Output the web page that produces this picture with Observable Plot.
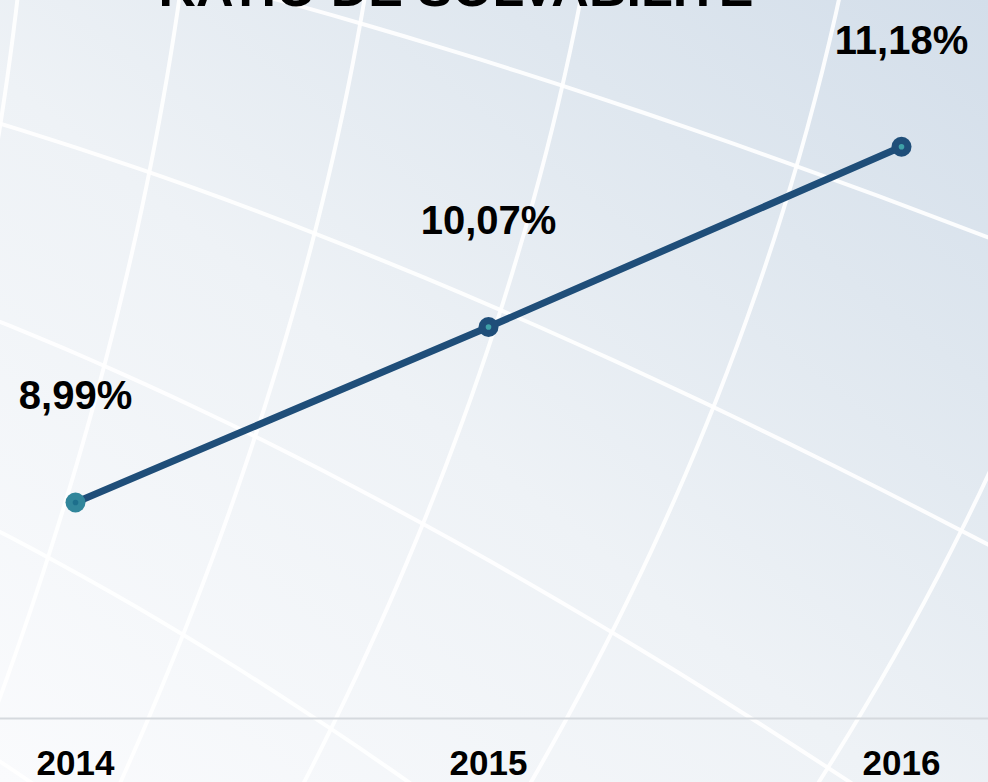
<!DOCTYPE html>
<html>
<head>
<meta charset="utf-8">
<script src="https://cdn.jsdelivr.net/npm/d3@7"></script>
<script src="https://cdn.jsdelivr.net/npm/@observablehq/plot@0.6"></script>
<style>
  html, body { margin: 0; padding: 0; }
  #wrap {
    position: relative; width: 988px; height: 782px; overflow: hidden;
    background: linear-gradient(to top right, #fafbfd 0%, #eef2f6 45%, #dfe7ef 75%, #d3deea 100%);
    font-family: "Liberation Sans", Arial, sans-serif;
  }
  #bg, #chart { position: absolute; left: 0; top: 0; }
  #title {
    position: absolute; left: 0; width: 912px; top: -38px;
    text-align: center; font: bold 52px/52px "Liberation Sans", Arial, sans-serif; color: #000;
  }
</style>
</head>
<body>
<div id="wrap">
  <div id="bg"></div>
  <div id="chart"></div>
  <div id="title">RATIO DE SOLVABILITE</div>
</div>
<script>
// ---- data ----
const years = ["2014", "2015", "2016"];
const ratios = [8.99, 10.07, 11.18];
const labels = ["8,99%", "10,07%", "11,18%"];

const NAVY = "#1f4e79";
const TEAL = "#31869b";
const INNER_FIRST = "#1d6f8c";
const INNER_OTHER = "#3fa1a8";

const data = years.map((year, i) => ({year, ratio: ratios[i], label: labels[i]}));

// ---- decorative background: globe graticule seen in perspective ----
const rad = Math.PI / 180;
// [scale, translateX, translateY, lon0, lat0, angle, latBase, latStep, lonStep, distance, tilt]
const globe = [1111.751, -945.799, 975.103, -50.404, -58.076, 369.430, 1.624, 8.986, 5.265, -0.764, -38.951];
const [R, tx, ty, lon0, lat0, alpha, latBase, latStep, lonStep, P, om] = globe;

function satRaw(P, omega) {
  const co = Math.cos(omega), so = Math.sin(omega);
  return function(lambda, phi) {
    const cp = Math.cos(phi), k = (P - 1) / (P - cp * Math.cos(lambda));
    const x = k * cp * Math.sin(lambda), y = k * Math.sin(phi);
    const A = y * so / (P - 1) + co;
    return [x * co / A, y / A];
  };
}
const clipA = (P > 1 ? Math.acos(1 / P) : Math.acos(P)) / rad - 2;
const proj = d3.geoProjection(satRaw(P, om * rad))
  .scale(R).translate([tx, ty]).rotate([-lon0, -lat0, 0]).angle(alpha)
  .clipAngle(clipA).precision(0.2);

const feats = [];
for (let i = -80; i <= 80; i++) {
  const lon = lonStep * i;
  if (Math.abs(lon) > 180) continue;
  feats.push({type: "LineString", coordinates: d3.range(-90, 90.01, 1).map(la => [lon, la])});
}
for (let j = -40; j <= 40; j++) {
  const la = latBase - latStep * j;
  if (la <= -90 || la >= 90) continue;
  feats.push({type: "LineString", coordinates: d3.range(-180, 180.01, 1).map(lo => [lo, la])});
}
document.getElementById("bg").append(Plot.plot({
  width: 988, height: 782, margin: 0,
  style: {background: "transparent"},
  projection: proj,
  marks: [Plot.geo(feats, {stroke: "white", strokeWidth: 4, strokeOpacity: 0.9})]
}));

// ---- chart ----
const yDomain = [7.66, 12];
document.getElementById("chart").append(Plot.plot({
  width: 988, height: 782,
  marginLeft: 75, marginRight: 87, marginTop: 13, marginBottom: 64,
  style: {background: "transparent", overflow: "visible", fontFamily: "'Liberation Sans', Arial, sans-serif"},
  x: {type: "point", domain: years, padding: 0},
  y: {domain: yDomain, axis: null},
  marks: [
    Plot.ruleY([yDomain[0]], {stroke: "#d5d9de", strokeWidth: 2, insetLeft: -75, insetRight: -87}),
    Plot.axisX({tickSize: 0, tickPadding: 32, fontSize: 35, fontWeight: "bold", color: "#000", label: null}),
    Plot.line(data, {x: "year", y: "ratio", stroke: NAVY, strokeWidth: 7}),
    Plot.dot(data, {x: "year", y: "ratio", r: 10, fill: d => d.year === years[0] ? TEAL : NAVY, stroke: "none"}),
    Plot.dot(data, {x: "year", y: "ratio", r: 2.8, fill: d => d.year === years[0] ? INNER_FIRST : INNER_OTHER, stroke: "none"}),
    Plot.text(data, {x: "year", y: "ratio", text: "label", dy: -106, fontSize: 40, fontWeight: "bold", fill: "#000"})
  ]
}));
</script>
</body>
</html>
